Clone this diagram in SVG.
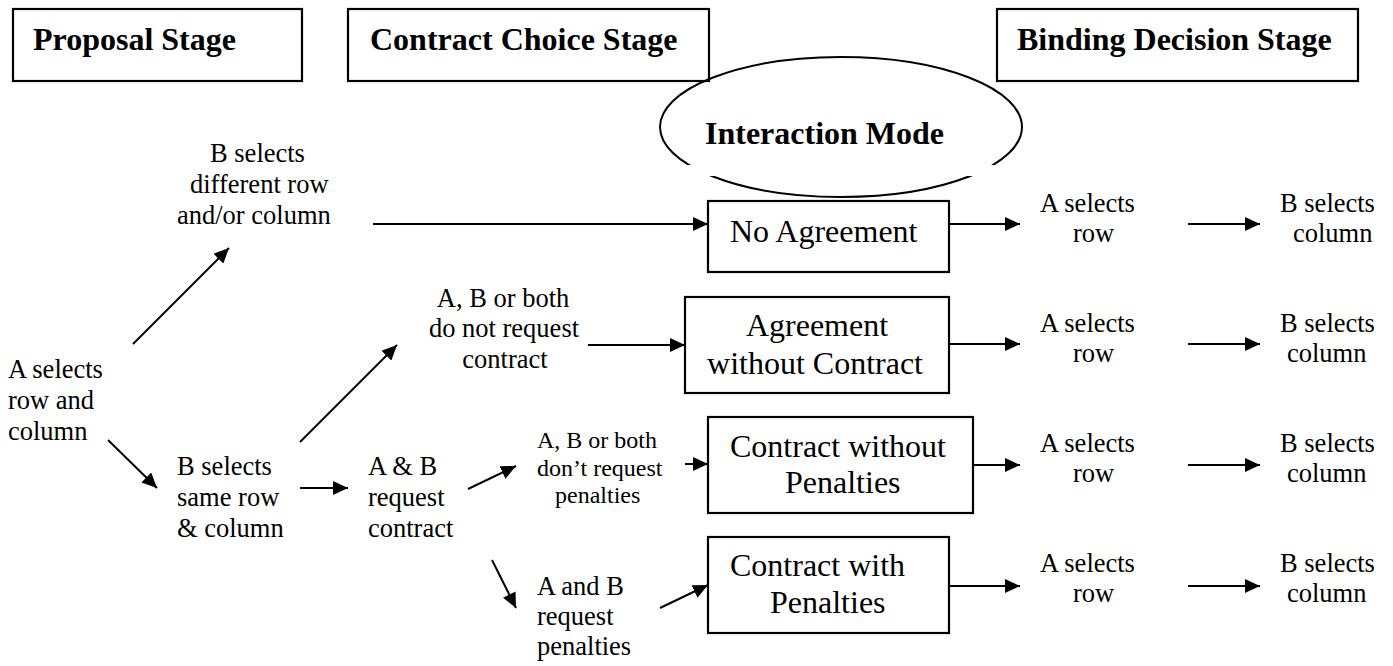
<svg xmlns="http://www.w3.org/2000/svg" width="1393" height="666" viewBox="0 0 1393 666">
<style>
text{font-family:"Liberation Serif","Times New Roman",serif;fill:#000}
.title{font-weight:bold;font-size:32px}
.big{font-size:32px}
.t{font-size:26.5px}
.s{font-size:24px}
.c{text-anchor:middle}
.box{fill:#fff;stroke:#000;stroke-width:2.2}
#connectors line{stroke:#000;stroke-width:2;marker-end:url(#arr)}
</style>
<defs>
<marker id="arr" markerUnits="userSpaceOnUse" markerWidth="16" markerHeight="14" refX="15" refY="7" orient="auto">
<path d="M0,0 L15,7 L0,14 z" fill="#000"/>
</marker>
</defs>
<rect width="1393" height="666" fill="#fff"/>

<g id="proposal-stage"><rect class="box" x="13" y="9" width="289" height="72"/><text class="title" x="33" y="50">Proposal Stage</text></g>
<g id="contract-choice-stage"><rect class="box" x="348" y="9" width="361" height="72"/><text class="title" x="370" y="50">Contract Choice Stage</text></g>
<g id="binding-decision-stage"><rect class="box" x="997" y="9" width="361" height="72"/><text class="title" x="1017" y="50">Binding Decision Stage</text></g>

<g id="interaction-mode">
<ellipse cx="841" cy="127" rx="181" ry="70" fill="none" stroke="#000" stroke-width="2"/>
<rect x="670" y="165" width="345" height="11" fill="#fff"/>
<text class="title" x="705" y="144">Interaction Mode</text>
</g>

<g id="no-agreement"><rect class="box" x="708" y="201" width="241" height="71"/><text class="big" x="730" y="242">No Agreement</text></g>
<g id="agreement-without-contract"><rect class="box" x="685" y="297" width="264" height="96"/><text class="big c" x="817" y="336">Agreement</text><text class="big c" x="815" y="374">without Contract</text></g>
<g id="contract-without-penalties"><rect class="box" x="708" y="417" width="265" height="96"/><text class="big" x="730" y="457">Contract without</text><text class="big" x="785" y="493">Penalties</text></g>
<g id="contract-with-penalties"><rect class="box" x="708" y="537" width="241" height="96"/><text class="big" x="730" y="576">Contract with</text><text class="big" x="770" y="613">Penalties</text></g>

<g id="a-selects-row-and-column"><text class="t" x="8" y="378">A selects</text><text class="t" x="8" y="409">row and</text><text class="t" x="8" y="440">column</text></g>
<g id="b-selects-different"><text class="t" x="210" y="162">B selects</text><text class="t" x="190" y="193">different row</text><text class="t" x="177" y="224">and/or column</text></g>
<g id="b-selects-same"><text class="t" x="177" y="475">B selects</text><text class="t" x="177" y="506">same row</text><text class="t" x="177" y="537">&amp; column</text></g>
<g id="a-and-b-request-contract"><text class="t" x="368" y="475">A &amp; B</text><text class="t" x="368" y="506">request</text><text class="t" x="368" y="537">contract</text></g>
<g id="not-request-contract"><text class="t c" x="503" y="307">A, B or both</text><text class="t c" x="504" y="337">do not request</text><text class="t c" x="505" y="368">contract</text></g>
<g id="not-request-penalties"><text class="s" x="537" y="448">A, B or both</text><text class="s" x="537" y="476">don’t request</text><text class="s" x="555" y="503">penalties</text></g>
<g id="request-penalties"><text class="t" x="537" y="595">A and B</text><text class="t" x="537" y="625">request</text><text class="t" x="537" y="655">penalties</text></g>

<g id="a-selects-row-1"><text class="t" x="1040" y="212">A selects</text><text class="t" x="1073" y="242">row</text></g>
<g id="b-selects-column-1"><text class="t" x="1280" y="212">B selects</text><text class="t" x="1293" y="242">column</text></g>
<g id="a-selects-row-2"><text class="t" x="1040" y="332">A selects</text><text class="t" x="1073" y="362">row</text></g>
<g id="b-selects-column-2"><text class="t" x="1280" y="332">B selects</text><text class="t" x="1287" y="362">column</text></g>
<g id="a-selects-row-3"><text class="t" x="1040" y="452">A selects</text><text class="t" x="1073" y="482">row</text></g>
<g id="b-selects-column-3"><text class="t" x="1280" y="452">B selects</text><text class="t" x="1287" y="482">column</text></g>
<g id="a-selects-row-4"><text class="t" x="1040" y="572">A selects</text><text class="t" x="1073" y="602">row</text></g>
<g id="b-selects-column-4"><text class="t" x="1280" y="572">B selects</text><text class="t" x="1287" y="602">column</text></g>

<g id="connectors">
<line x1="133" y1="344" x2="229" y2="248"/>
<line x1="108" y1="440" x2="157" y2="488"/>
<line x1="373" y1="224" x2="708" y2="224"/>
<line x1="300" y1="442" x2="397" y2="345"/>
<line x1="300" y1="488" x2="348" y2="488"/>
<line x1="588" y1="345" x2="685" y2="345"/>
<line x1="468" y1="489" x2="516" y2="466"/>
<line x1="492" y1="560" x2="516" y2="608"/>
<line x1="685" y1="464" x2="708" y2="464"/>
<line x1="660" y1="608" x2="708" y2="585"/>
<line x1="949" y1="224" x2="1020" y2="224"/>
<line x1="949" y1="344" x2="1020" y2="344"/>
<line x1="973" y1="465" x2="1020" y2="465"/>
<line x1="949" y1="586" x2="1020" y2="586"/>
<line x1="1188" y1="224" x2="1260" y2="224"/>
<line x1="1188" y1="344" x2="1260" y2="344"/>
<line x1="1188" y1="465" x2="1260" y2="465"/>
<line x1="1188" y1="586" x2="1260" y2="586"/>
</g>
</svg>
